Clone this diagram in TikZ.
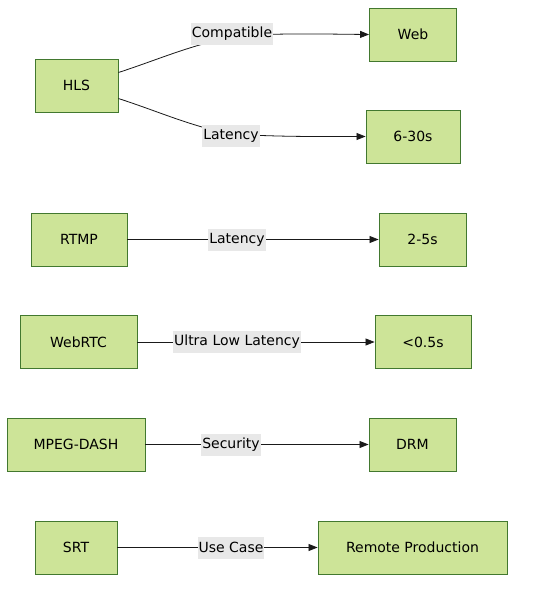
\documentclass[tikz,border=0pt]{standalone}
\usepackage{fontspec}
\setmainfont{DejaVu Sans}
\usetikzlibrary{arrows.meta}
\definecolor{nodefill}{HTML}{CDE498}
\definecolor{nodeborder}{HTML}{13540C}
\definecolor{lblbg}{HTML}{E8E8E8}
\definecolor{edgecol}{HTML}{1A1A1A}
\tikzset{
  box/.style={draw=nodeborder!75!nodefill, fill=nodefill, line width=0.9pt, minimum height=53pt, inner sep=0pt, font=\fontsize{14}{16}\selectfont},
  lbl/.style={fill=lblbg, inner xsep=1pt, inner ysep=0pt, minimum height=22pt, font=\fontsize{14}{16}\selectfont},
  edge/.style={draw=edgecol, line width=0.8pt, -{Triangle[length=9pt,width=7pt]}},
}
\begin{document}
\begin{tikzpicture}[x=1pt,y=-1pt]
\useasboundingbox (0,0) rectangle (536,590);
\fill[white] (0,0) rectangle (536,590);
% nodes
\node[box, minimum width=83pt] (hls) at (76.5,85.5) {HLS};
\node[box, minimum width=87pt] (web) at (413,34.5) {Web};
\node[box, minimum width=94pt] (lat1) at (413,136.5) {6-30s};
\node[box, minimum width=96pt] (rtmp) at (79,239.5) {RTMP};
\node[box, minimum width=87pt] (lat2) at (422.5,239.5) {2-5s};
\node[box, minimum width=117pt] (webrtc) at (78.5,342) {WebRTC};
\node[box, minimum width=96pt] (lat3) at (423,342) {<0.5s};
\node[box, minimum width=138pt] (dash) at (76,444.5) {MPEG-DASH};
\node[box, minimum width=87pt] (drm) at (412.5,444.5) {DRM};
\node[box, minimum width=82pt] (srt) at (76,547.5) {SRT};
\node[box, minimum width=189pt] (remote) at (412.5,547.5) {Remote Production};
% edges
\draw[edge] ([yshift=13pt]hls.east) .. controls (160,59) and (190,45) .. (237,36) .. controls (280,33) and (320,34) .. (web.west);
\draw[edge] ([yshift=-13pt]hls.east) .. controls (160,112) and (190,126) .. (231,134) .. controls (280,137) and (320,136.5) .. (lat1.west);
\draw[edge] (rtmp.east) -- (lat2.west);
\draw[edge] (webrtc.east) -- (lat3.west);
\draw[edge] (dash.east) -- (drm.west);
\draw[edge] (srt.east) -- (remote.west);
% labels
\node[lbl] (l1) at (232,34) {Compatible};
\node[lbl] (l2) at (231,136) {Latency};
\node[lbl] (l3) at (237,239.5) {Latency};
\node[lbl] (l4) at (237,341.5) {Ultra Low Latency};
\node[lbl] (l5) at (231,444.5) {Security};
\node[lbl] (l6) at (231,547.5) {Use Case};
\end{tikzpicture}
\end{document}
